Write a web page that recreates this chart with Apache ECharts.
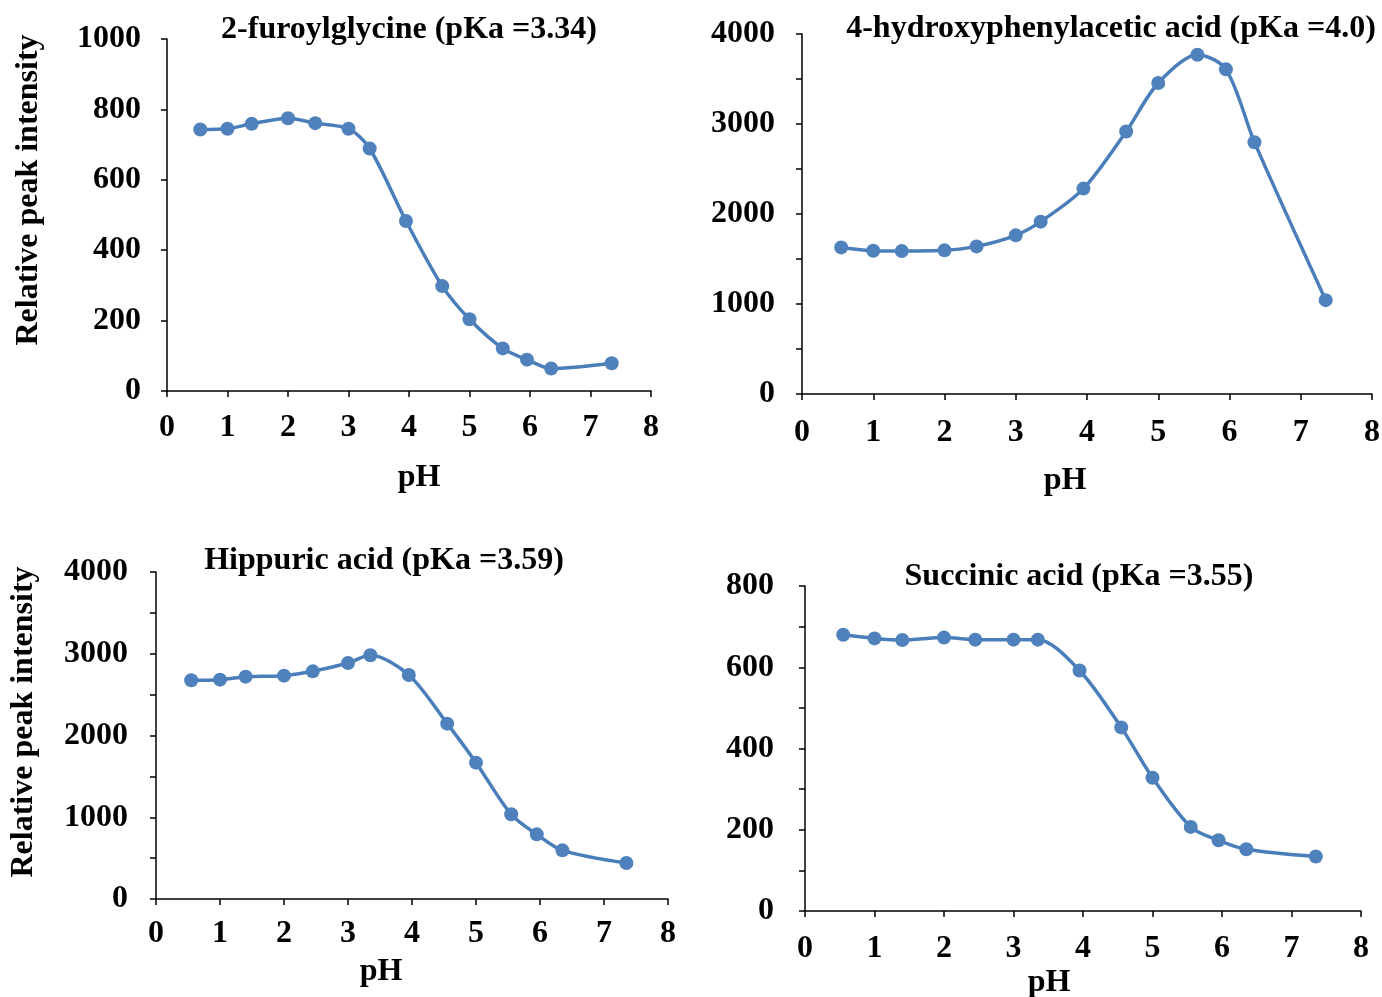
<!DOCTYPE html>
<html>
<head>
<meta charset="utf-8">
<script src="https://cdn.jsdelivr.net/npm/echarts@6/dist/echarts.min.js"></script>
<style>
html,body{margin:0;padding:0;background:#fff;}
#c{width:1382px;height:997px;}
</style>
</head>
<body>
<div id="c"></div>
<script>
// ---- data ----
const pH = [0.55, 1.0, 1.4, 2.0, 2.45, 3.0, 3.35, 3.95, 4.55, 5.0, 5.55, 5.95, 6.35, 7.35];
const furoylglycine = [743, 745, 759, 775, 761, 745, 689, 483, 298, 204, 121, 89, 64, 79];
const hydroxyphenylacetic = [1629, 1592, 1588, 1596, 1640, 1763, 1915, 2282, 2917, 3455, 3770, 3607, 2798, 1043];
const hippuric = [2675, 2683, 2720, 2732, 2785, 2887, 2981, 2740, 2145, 1668, 1036, 791, 595, 440];
const succinic = [680, 671, 667, 673, 668, 668, 668, 592, 452, 328, 207, 174, 152, 134];
const titles = ['2-furoylglycine (pKa =3.34)', '4-hydroxyphenylacetic acid (pKa =4.0)', 'Hippuric acid (pKa =3.59)', 'Succinic acid (pKa =3.55)'];
const xName = 'pH';
const yName = 'Relative peak intensity';
const xTicks = [0, 8, 1];          // min, max, step
const yAxesSpec = [                 // min, max, tick step, label step
  [0, 1000, 200, 200],
  [0, 4000, 500, 1000],
  [0, 4000, 500, 1000],
  [0, 800, 100, 200]
];
const seriesValues = [furoylglycine, hydroxyphenylacetic, hippuric, succinic];

// ---- layout ----
const FONT = 'Liberation Serif';
const FS = 32;
const grids = [
  {left: 167, top: 39, width: 484, height: 352},
  {left: 802, top: 34, width: 570, height: 360},
  {left: 156, top: 572, width: 512, height: 327},
  {left: 805, top: 586, width: 556, height: 325}
];
const yLabelMargin = [26, 27, 28, 31];
const xLabelMargin = [21, 23, 19, 22];
const titlePos = [[409, 14], [1111, 13], [384, 545], [1079, 561]];
const xNamePos = [[419, 462], [1065, 465], [381, 956], [1049, 967]];
const lineColor = '#4A7EBB';
const markColor = '#4F81BD';

const textBase = {fontFamily: FONT, fontWeight: 'bold', fontSize: FS, color: '#000'};

const option = {
  animation: false,
  backgroundColor: '#fff',
  title: [],
  grid: grids.map(g => Object.assign({containLabel: false, outerBoundsMode: 'none'}, g)),
  xAxis: [],
  yAxis: [],
  series: [],
  graphic: []
};

for (let i = 0; i < 4; i++) {
  option.title.push({
    text: titles[i], left: titlePos[i][0], top: titlePos[i][1], textAlign: 'center', padding: 0,
    textStyle: Object.assign({}, textBase)
  });
  option.title.push({
    text: xName, left: xNamePos[i][0], top: xNamePos[i][1], textAlign: 'center', padding: 0,
    textStyle: Object.assign({}, textBase)
  });
  option.xAxis.push({
    type: 'value', gridIndex: i, min: xTicks[0], max: xTicks[1], interval: xTicks[2],
    splitLine: {show: false},
    axisLine: {show: true, onZero: false, lineStyle: {color: '#000', width: 1.5}},
    axisTick: {show: true, inside: false, length: 6, lineStyle: {color: '#000', width: 1.5}},
    axisLabel: Object.assign({margin: xLabelMargin[i]}, textBase)
  });
  const ys = yAxesSpec[i];
  option.yAxis.push({
    type: 'value', gridIndex: i, min: ys[0], max: ys[1], interval: ys[2],
    splitLine: {show: false},
    axisLine: {show: true, onZero: false, lineStyle: {color: '#000', width: 1.5}},
    axisTick: {show: true, inside: false, length: 6, lineStyle: {color: '#000', width: 1.5}},
    axisLabel: Object.assign({
      margin: yLabelMargin[i],
      formatter: v => (v % ys[3] === 0 ? String(v) : '')
    }, textBase)
  });
  option.series.push({
    type: 'line', xAxisIndex: i, yAxisIndex: i,
    data: pH.map((x, j) => [x, seriesValues[i][j]]),
    smooth: 0.3,
    symbol: 'circle', symbolSize: 14,
    lineStyle: {color: lineColor, width: 3.5},
    itemStyle: {color: markColor}
  });
}

option.graphic = [
  {type: 'text', x: 29, y: 190, rotation: Math.PI / 2,
   style: {text: yName, font: 'bold ' + FS + 'px "' + FONT + '"', fill: '#000', align: 'center', verticalAlign: 'middle'}},
  {type: 'text', x: 24, y: 722, rotation: Math.PI / 2,
   style: {text: yName, font: 'bold ' + FS + 'px "' + FONT + '"', fill: '#000', align: 'center', verticalAlign: 'middle'}}
];

const chart = echarts.init(document.getElementById('c'), null, {renderer: 'canvas'});
chart.setOption(option);
</script>
</body>
</html>
